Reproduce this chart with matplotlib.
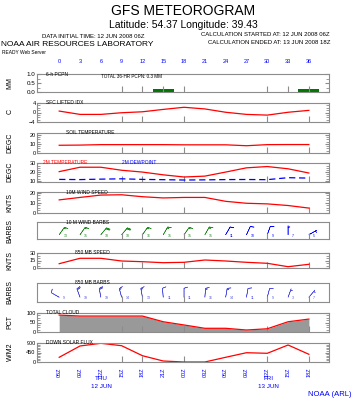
import numpy as np
import matplotlib
matplotlib.use("Agg")
import matplotlib.pyplot as plt
from matplotlib.ticker import MultipleLocator

plt.rcParams['font.family'] = ['Liberation Sans', 'DejaVu Sans']

hours = [0, 3, 6, 9, 12, 15, 18, 21, 24, 27, 30, 33, 36]
time_labels = ["06Z", "09Z", "12Z", "15Z", "18Z", "21Z", "00Z", "03Z",
               "06Z", "09Z", "12Z", "15Z", "18Z"]

pcpn_hours = [15, 36]
pcpn = [0.15, 0.15]
lifted_idx = [0.6, -0.8, -0.8, -0.1, 0.3, 1.3, 2.2, 1.5, 0.1, -0.8, -1.1, 0.1, 0.9]
soil_temp = [8.5, 8.7, 9.2, 9.2, 9.2, 9.2, 9.0, 9.0, 9.0, 8.0, 9.2, 9.3, 9.3]
temp_2m = [20.5, 25.6, 25.6, 22.1, 20.0, 16.8, 14.3, 15.3, 20.0, 24.9, 26.4, 23.8, 18.9]
dewp_2m = [11.5, 11.3, 11.8, 12.2, 11.5, 11.2, 10.8, 11.0, 11.3, 11.4, 11.2, 13.5, 13.0]
wspd_10m = [12.8, 15.2, 17.5, 17.8, 15.9, 14.7, 15.2, 15.2, 11.4, 9.5, 8.9, 7.3, 4.8]
wdir_10m = [35, 35, 40, 40, 35, 30, 35, 30, 30, 25, 20, 0, 60]
wspd_850 = [8.6, 19.4, 19.4, 14.0, 12.6, 10.6, 11.4, 16.0, 14.0, 11.4, 9.4, 2.6, 7.4]
wdir_850 = [300, 340, 350, 345, 350, 355, 0, 5, 10, 10, 15, 20, 40]
cloud = [89, 84, 84, 84, 84, 54, 37, 19.5, 19.5, 10.5, 17, 54, 68]
solar = [223, 758, 886, 772, 298, 47, 0, 0, 223, 440, 412, 805, 365]

W, H = 352, 399
fig = plt.figure(figsize=(W / 100, H / 100), dpi=100)
blue = "#0000ff"
gray = "#8c8c8c"


def panel(top, bottom):
    ax = fig.add_axes([37 / W, 1 - bottom / H, 292 / W, (bottom - top) / H])
    ax.set_xlim(-3.2, 38.9)
    for s in ax.spines.values():
        s.set_color(gray)
        s.set_linewidth(0.8)
    ax.set_xticks([9, 12, 18, 30, 36])
    ax.tick_params(axis='x', direction='in', length=4, color=gray,
                   labelbottom=False)
    ax.tick_params(axis='y', which='both', direction='in', color=gray,
                   right=True, labelsize=4, pad=1, length=3)
    ax.tick_params(axis='y', which='minor', length=2)
    return ax


def ylab(y, txt):
    fig.text(10 / W, 1 - y / H, txt, rotation=90, ha='center', va='center',
             fontsize=5)


def title(ax, txt, x=0.03, color='black'):
    ax.text(x, 1.0, txt, transform=ax.transAxes, fontsize=3.5, color=color,
            va='center', ha='left')


def barbs(ax, spd, wdir, color):
    s = np.array(spd)
    d = np.radians(wdir)
    ax.barbs(hours, [0.25] * len(hours), -s * np.sin(d), -s * np.cos(d),
             color=color, length=3.6, linewidth=0.4)
    for h, v, c in zip(hours, spd, color if isinstance(color, list) else [color] * 13):
        ax.text(h + 0.6, 0.2, "%d" % round(v), fontsize=2.5, color=c,
                ha='left', va='center')


# header
fig.text(183 / W, 1 - 11 / H, "GFS METEOROGRAM", ha='center', va='center', fontsize=10)
fig.text(183 / W, 1 - 25 / H, "Latitude: 54.37 Longitude: 39.43", ha='center',
         va='center', fontsize=7.5)
fig.text(145 / W, 1 - 36 / H, "DATA INITIAL TIME: 12 JUN 2008 06Z", ha='right',
         va='center', fontsize=4.3)
fig.text(1 / W, 1 - 45 / H, "NOAA AIR RESOURCES LABORATORY", ha='left',
         va='center', fontsize=6)
fig.text(2 / W, 1 - 53 / H, "READY Web Server", ha='left', va='center', fontsize=3.5)
fig.text(330 / W, 1 - 35 / H, "CALCULATION STARTED AT: 12 JUN 2008 06Z",
         ha='right', va='center', fontsize=4.3)
fig.text(330 / W, 1 - 43 / H, "CALCULATION ENDED AT: 13 JUN 2008 18Z",
         ha='right', va='center', fontsize=4.3)

# panel 1: precipitation
ax = panel(74, 92)
ax.bar(pcpn_hours, pcpn, width=3, color='#007700')
ax.set_ylim(0, 1.0)
ax.set_yticks([0, 0.5, 1.0])
ax.set_yticklabels(["0.0", "0.5", "1.0"], fontsize=4.5)
ax.yaxis.set_minor_locator(MultipleLocator(0.25))
ax.set_xticks([9, 12, 15, 18, 30, 33, 36])
ax2 = ax.secondary_xaxis('top')
ax2.set_xticks(hours)
ax2.set_xticklabels([str(h) for h in hours])
ax2.tick_params(length=0, labelsize=4, labelcolor=blue, pad=7)
ax2.spines['top'].set_visible(False)
title(ax, "6-h PCPN")
ax.text(0.22, 0.85, "TOTAL 36-HR PCPN: 0.3 MM", transform=ax.transAxes,
        fontsize=3.3, va='center')
ylab(83, "MM")

# panel 2: lifted index
ax = panel(103, 122)
ax.plot(hours, lifted_idx, color='red', lw=0.9)
ax.set_ylim(-4, 4)
ax.set_yticks([-4, 0, 4])
ax.yaxis.set_minor_locator(MultipleLocator(1))
title(ax, "SFC LIFTED IDX")
ylab(112, "C")

# panel 3: soil temperature
ax = panel(133, 153)
ax.plot(hours, soil_temp, color='red', lw=0.9)
ax.set_ylim(0, 22)
ax.set_yticks([0, 10, 20])
ax.yaxis.set_minor_locator(MultipleLocator(2.5))
title(ax, "SOIL TEMPERATURE", x=0.1)
ylab(143, "DEGC")

# panel 4: 2m temperature and dew point
ax = panel(163, 182)
ax.plot(hours, temp_2m, color='red', lw=0.9)
ax.plot(hours, dewp_2m, color=blue, lw=0.9, ls=(0, (5, 3)))
ax.set_ylim(8.5, 30.5)
ax.set_yticks([10, 20, 30])
ax.yaxis.set_minor_locator(MultipleLocator(2.5))
title(ax, "2M TEMPERATURE", x=0.02, color='red')
title(ax, "2M DEWPOINT", x=0.29, color=blue)
ylab(172, "DEGC")

# panel 5: 10m wind speed
ax = panel(192, 213)
ax.plot(hours, wspd_10m, color='red', lw=0.9)
ax.set_ylim(0, 20.5)
ax.set_yticks([0, 10, 20])
ax.yaxis.set_minor_locator(MultipleLocator(2.5))
title(ax, "10M WIND SPEED", x=0.1)
ylab(202, "KNTS")

# panel 6: 10m wind barbs
ax = panel(222, 239)
ax.set_ylim(0, 1)
ax.set_yticks([])
ax.tick_params(axis='y', which='minor', length=0)
barbs(ax, wspd_10m, wdir_10m, ['#228b22'] * 8 + [blue] * 5)
title(ax, "10 M WIND BARBS", x=0.1)
ylab(231, "BARBS")

# panel 7: 850 mb wind speed
ax = panel(253, 268)
ax.plot(hours, wspd_850, color='red', lw=0.9)
ax.set_ylim(0, 30)
ax.set_yticks([0, 15, 30])
ax.yaxis.set_minor_locator(MultipleLocator(5))
title(ax, "850 MB SPEED", x=0.13)
ylab(260, "KNTS")

# panel 8: 850 mb barbs
ax = panel(283, 302)
ax.set_ylim(0, 1)
ax.set_yticks([])
ax.tick_params(axis='y', which='minor', length=0)
barbs(ax, wspd_850, wdir_850, '#5050e0')
title(ax, "850 MB BARBS", x=0.13)
ylab(292, "BARBS")

# panel 9: total cloud
ax = panel(313, 332)
ax.fill_between(hours, cloud, 0, color='#999999', lw=0)
ax.plot(hours, cloud, color='red', lw=0.9)
ax.set_ylim(0, 100)
ax.set_yticks([0, 50, 100])
ax.yaxis.set_minor_locator(MultipleLocator(12.5))
title(ax, "TOTAL CLOUD")
ylab(322, "PCT")

# panel 10: downward solar flux
ax = panel(343, 362)
ax.plot(hours, solar, color='red', lw=0.9)
ax.set_ylim(0, 900)
ax.set_yticks([0, 450, 900])
ax.yaxis.set_minor_locator(MultipleLocator(75))
title(ax, "DOWN SOLAR FLUX")
ylab(352, "W/M2")
axb = ax.secondary_xaxis('bottom')
axb.set_xticks(hours)
axb.set_xticklabels(time_labels, rotation=90)
axb.tick_params(length=0, labelsize=4, labelcolor=blue, pad=4)
axb.spines['bottom'].set_visible(False)

fig.text(101 / W, 1 - 379 / H, "THU", ha='center', va='center', fontsize=4.5, color=blue)
fig.text(101 / W, 1 - 387 / H, "12 JUN", ha='center', va='center', fontsize=4.5, color=blue)
fig.text(268 / W, 1 - 379 / H, "FRI", ha='center', va='center', fontsize=4.5, color=blue)
fig.text(268 / W, 1 - 387 / H, "13 JUN", ha='center', va='center', fontsize=4.5, color=blue)
fig.text(351 / W, 1 - 394 / H, "NOAA (ARL)", ha='right', va='center', fontsize=5.5, color=blue)

fig.savefig("out.png", dpi=100)
